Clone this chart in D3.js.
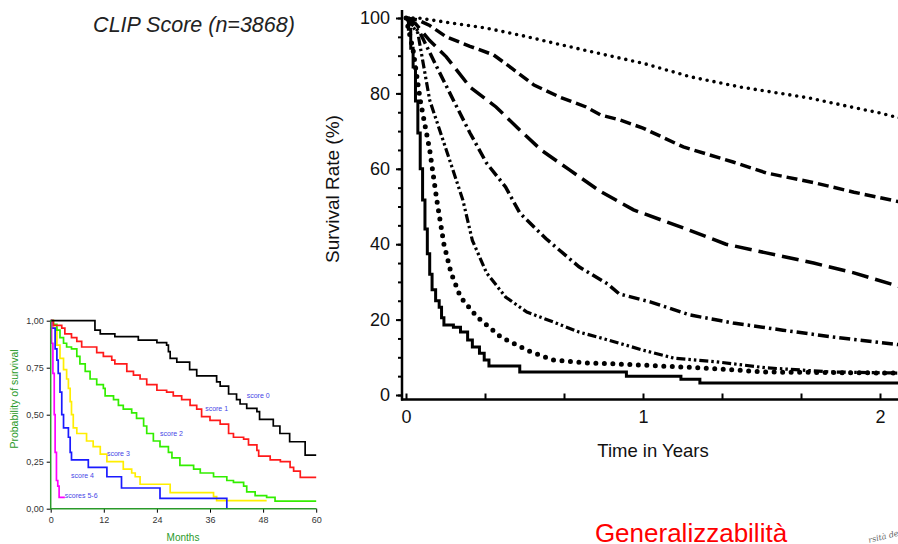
<!DOCTYPE html>
<html>
<head>
<meta charset="utf-8">
<script src="https://cdn.jsdelivr.net/npm/d3@7"></script>
<style>
  body { margin: 0; background: #fff; }
  svg { display: block; font-family: Arial, 'Liberation Sans', sans-serif; }
</style>
</head>
<body>
<svg width="898" height="544"></svg>
<script>
// right chart: survival (%) vs time in years, CLIP score 0..6
let clip0 = [[0,100],[0.05,100],[0.2,98.6],[0.34,97.3],[0.5,95.2],[0.62,93.4],[0.8,90.8],[0.9,89.4],[1.0,88],[1.2,84.4],[1.41,81.7],[1.7,78.8],[1.87,76.5],[2.0,74.8],[2.1,73.2]]
let clip1 = [[0,100],[0.05,99.5],[0.1,98],[0.17,95],[0.27,92.5],[0.37,90.2],[0.45,86.5],[0.54,82.2],[0.65,79],[0.76,76.4],[0.82,74.3],[0.9,73],[1.0,70.8],[1.17,65.8],[1.38,61.8],[1.52,58.9],[1.73,56.2],[1.89,53.8],[2.1,51]]
let clip2 = [[0,100],[0.04,98.5],[0.1,94],[0.17,89.7],[0.27,81.7],[0.38,76.4],[0.48,70.3],[0.57,65],[0.69,59.7],[0.82,54],[0.96,49.1],[1.17,44.3],[1.35,40],[1.52,37.7],[1.72,35],[1.89,32.4],[2.1,28.4]]
let clip3 = [[0,100],[0.06,96],[0.13,87],[0.2,78.2],[0.27,69.5],[0.34,61.5],[0.42,55.2],[0.48,48.3],[0.59,41.5],[0.73,34],[0.85,29.5],[0.9,26.8],[1.03,24.7],[1.2,21.2],[1.38,19.1],[1.59,17.2],[1.8,15.4],[2.1,13.2]]
let clip4 = [[0,100],[0.05,96],[0.1,78.2],[0.17,65],[0.24,51.7],[0.28,41],[0.34,32.4],[0.42,26],[0.51,22],[0.62,19.4],[0.73,16.7],[0.83,15],[1.0,11.9],[1.13,9.8],[1.31,8.8],[1.52,7.2],[1.8,6.1],[2.1,5.8]]
let clip5 = [[0,100],[0.03,91.5],[0.06,78.2],[0.1,65],[0.13,51.7],[0.16,40],[0.19,32.4],[0.23,26],[0.3,20.7],[0.4,15.4],[0.51,11.9],[0.62,9.3],[0.76,8.5],[0.9,8.2],[1.24,7.2],[1.52,6.1],[2.1,5.8]]
let clip6 = [[0,100],[0.01,97],[0.02,92],[0.03,87],[0.04,78],[0.05,69.5],[0.06,60],[0.07,51.7],[0.08,44],[0.09,37.5],[0.1,32],[0.11,27.9],[0.125,25],[0.14,23.3],[0.15,20.5],[0.16,18.6],[0.2,18],[0.23,16.7],[0.26,14.6],[0.28,12.7],[0.31,11.1],[0.33,9.3],[0.35,7.7],[0.48,6.1],[0.93,5],[1.16,4.2],[1.24,3.2],[2.1,3.2]]
let yearTicks = [0, 1, 2]
let rateTicks = [0, 20, 40, 60, 80, 100]

// left chart: probability of survival vs months
let scoreNames = ['score 0', 'score 1', 'score 2', 'score 3', 'score 4', 'scores 5-6']
let score0 = [[0,1],[10,0.95],[11.2,0.93],[14.5,0.915],[19.8,0.897],[24,0.883],[26.2,0.87],[26.6,0.835],[27,0.80],[28.5,0.78],[31.4,0.74],[33,0.706],[37.5,0.675],[38.3,0.652],[40.2,0.61],[42,0.58],[42.8,0.557],[44.3,0.534],[46.6,0.516],[47.2,0.475],[50.3,0.44],[51.8,0.40],[54,0.356],[57.5,0.285],[60,0.285]]
let score1 = [[0,1],[0.6,0.975],[2.5,0.96],[3.2,0.93],[4.7,0.91],[5.9,0.89],[7,0.86],[10.4,0.83],[11.9,0.81],[13.8,0.79],[14.5,0.77],[17.2,0.73],[18.7,0.71],[20.2,0.69],[21.7,0.66],[24,0.63],[26.2,0.62],[27.7,0.60],[29.6,0.58],[31.5,0.55],[33,0.53],[34.1,0.49],[36,0.47],[38.3,0.45],[40.2,0.40],[41.3,0.38],[43.6,0.37],[44.7,0.34],[46.6,0.31],[47,0.28],[49.6,0.26],[51.9,0.25],[54.1,0.22],[54.9,0.20],[56.4,0.167],[60,0.167]]
let score2 = [[0,1],[0.6,0.98],[1.4,0.95],[2.1,0.91],[2.9,0.88],[3.6,0.86],[4.7,0.85],[5.9,0.81],[6.6,0.77],[7.8,0.73],[8.9,0.69],[10.4,0.66],[11.9,0.64],[12.3,0.60],[14.2,0.58],[15.3,0.55],[16.4,0.53],[18.3,0.51],[19.4,0.48],[21,0.44],[21.7,0.40],[23.2,0.36],[24.7,0.33],[26.6,0.30],[27.4,0.27],[29.2,0.23],[32.3,0.21],[33.8,0.19],[36.8,0.17],[39.8,0.15],[41.3,0.14],[43.6,0.12],[44.3,0.09],[46.2,0.07],[48.8,0.06],[50.7,0.04],[60,0.04]]
let score3 = [[0,1],[0.6,0.96],[1.4,0.87],[2.1,0.80],[2.9,0.74],[3.6,0.69],[4,0.64],[4.4,0.57],[4.7,0.50],[5.1,0.43],[5.9,0.40],[8.1,0.36],[9.6,0.33],[11.2,0.29],[12.7,0.25],[16.4,0.21],[18.3,0.19],[19.1,0.17],[20.2,0.13],[27,0.085],[36.8,0.064],[37.5,0.043],[48.8,0.043]]
let score4 = [[0,1],[0.2,0.96],[1,0.85],[1.4,0.79],[1.7,0.72],[2.1,0.62],[2.5,0.50],[2.9,0.43],[4,0.38],[4.4,0.30],[4.7,0.26],[8.5,0.22],[12.7,0.17],[16,0.11],[24.7,0.055],[39.8,0]]
let score56 = [[0,1],[0.2,0.88],[0.5,0.72],[0.8,0.5],[1.0,0.3],[1.3,0.15],[1.6,0.12],[1.9,0.06],[3.2,0.06]]
let labelSpots = [[44.3,0.60],[34.9,0.533],[24.7,0.40],[12.7,0.291],[4.6,0.176],[3.2,0.069]]
let monthTicks = [0, 12, 24, 36, 48, 60]
let probTicks = [0, 0.25, 0.5, 0.75, 1]

let svg = d3.select('svg')

/* 
  Right chart
*/
let xScale = d3.scaleLinear().domain([0, 2]).range([406, 880])
let yScale = d3.scaleLinear().domain([0, 100]).range([395, 18])

let right = svg.append('g')

right.append('g')
  .attr('transform', 'translate(402,0)')
  .call(d3.axisLeft(yScale).tickValues(d3.range(0, 101, 5)).tickSize(4).tickFormat(''))
  .call(g => g.select('.domain').remove())
  .call(g => g.selectAll('line').attr('stroke-width', 2))

right.append('g')
  .attr('transform', 'translate(402,0)')
  .call(d3.axisLeft(yScale).tickValues(rateTicks).tickSize(6).tickPadding(6))
  .call(g => g.select('.domain').remove())
  .call(g => g.selectAll('line').attr('stroke-width', 2))
  .call(g => g.selectAll('text').attr('font-size', 18).attr('fill', '#111').attr('font-family', 'Arial, Liberation Sans'))

right.append('g')
  .attr('transform', 'translate(0,399.5)')
  .call(d3.axisBottom(xScale).tickValues(d3.range(0, 2.2, 1 / 3)).tickSize(-6).tickFormat(''))
  .call(g => g.select('.domain').remove())
  .call(g => g.selectAll('line').attr('stroke-width', 2))

right.append('g')
  .attr('transform', 'translate(0,399.5)')
  .call(d3.axisBottom(xScale).tickValues(yearTicks).tickSize(0).tickPadding(11).tickFormat(d3.format('d')))
  .call(g => g.select('.domain').remove())
  .call(g => g.selectAll('text').attr('font-size', 18).attr('fill', '#111').attr('font-family', 'Arial, Liberation Sans'))

right.append('line')
  .attr('x1', 402).attr('x2', 402).attr('y1', 10).attr('y2', 400.5)
  .attr('stroke', '#000').attr('stroke-width', 2.5)
right.append('line')
  .attr('x1', 401).attr('x2', 898).attr('y1', 399.5).attr('y2', 399.5)
  .attr('stroke', '#000').attr('stroke-width', 2.5)

let line = d3.line()
  .x(d => xScale(d[0]))
  .y(d => yScale(d[1]))

let styles = [
  { data: clip0, dash: '0,7', width: 3.6, cap: 'round' },
  { data: clip1, dash: '11,5', width: 3.5, cap: 'butt' },
  { data: clip2, dash: '17,7', width: 3.5, cap: 'butt' },
  { data: clip3, dash: '11,4,2.5,4', width: 3.5, cap: 'butt' },
  { data: clip4, dash: '9,3,2.5,3,2.5,3', width: 3.2, cap: 'butt' },
  { data: clip5, dash: '0,8.5', width: 5, cap: 'round' }
]

styles.forEach(s => {
  right.append('path')
    .attr('d', line(s.data))
    .attr('fill', 'none')
    .attr('stroke', '#000')
    .attr('stroke-width', s.width)
    .attr('stroke-dasharray', s.dash)
    .attr('stroke-linecap', s.cap)
})

right.append('path')
  .attr('d', line.curve(d3.curveStepAfter)(clip6))
  .attr('fill', 'none')
  .attr('stroke', '#000')
  .attr('stroke-width', 3)

right.append('text')
  .attr('transform', 'translate(339,189) rotate(-90)')
  .attr('text-anchor', 'middle')
  .attr('font-size', 19)
  .attr('fill', '#111')
  .text('Survival Rate (%)')

right.append('text')
  .attr('x', 653).attr('y', 457)
  .attr('text-anchor', 'middle')
  .attr('font-size', 18.5)
  .attr('fill', '#111')
  .text('Time in Years')

/* 
  Left chart
*/
let xLeft = d3.scaleLinear().domain([0, 60]).range([50.7, 316.2])
let yLeft = d3.scaleLinear().domain([0, 1]).range([508.7, 320.7])
let green = '#2a9a2a'

let left = svg.append('g')

left.append('g')
  .attr('transform', 'translate(50.7,0)')
  .call(d3.axisLeft(yLeft).tickValues(probTicks).tickSize(4).tickPadding(3)
    .tickFormat(d => d3.format('.2f')(d).replace('.', ',')))
  .call(g => g.select('.domain').remove())
  .call(g => g.selectAll('text').attr('font-size', 9).attr('fill', '#333'))

left.append('g')
  .attr('transform', 'translate(0,508.7)')
  .call(d3.axisBottom(xLeft).tickValues(monthTicks).tickSize(4).tickPadding(4))
  .call(g => g.select('.domain').remove())
  .call(g => g.selectAll('text').attr('font-size', 9).attr('fill', '#333'))

let lineLeft = d3.line()
  .curve(d3.curveStepAfter)
  .x(d => xLeft(d[0]))
  .y(d => yLeft(d[1]))

let curves = [
  { data: score3, color: '#ffee00' },
  { data: score2, color: '#33ee00' },
  { data: score4, color: '#1a1aff' },
  { data: score56, color: '#ff00ff' },
  { data: score1, color: '#ff1a1a' },
  { data: score0, color: '#000000' }
]

curves.forEach(c => {
  left.append('path')
    .attr('d', lineLeft(c.data))
    .attr('fill', 'none')
    .attr('stroke', c.color)
    .attr('stroke-width', 1.7)
})

left.append('line')
  .attr('x1', 50.7).attr('x2', 50.7).attr('y1', 320).attr('y2', 509)
  .attr('stroke', green).attr('stroke-width', 1.5)
left.append('line')
  .attr('x1', 50).attr('x2', 316.5).attr('y1', 508.7).attr('y2', 508.7)
  .attr('stroke', green).attr('stroke-width', 1.5)

left.selectAll('.score')
  .data(scoreNames)
  .enter()
  .append('text')
  .attr('x', (d, i) => xLeft(labelSpots[i][0]))
  .attr('y', (d, i) => yLeft(labelSpots[i][1]))
  .attr('dy', '0.35em')
  .attr('font-size', 7)
  .attr('fill', '#4646e6')
  .text(d => d)

left.append('text')
  .attr('transform', 'translate(18,399) rotate(-90)')
  .attr('text-anchor', 'middle')
  .attr('font-size', 10.5)
  .attr('fill', green)
  .text('Probability of survival')

left.append('text')
  .attr('x', 183).attr('y', 541)
  .attr('text-anchor', 'middle')
  .attr('font-size', 10)
  .attr('fill', green)
  .text('Months')

/* 
  Slide texts
*/
svg.append('text')
  .attr('x', 194).attr('y', 32)
  .attr('text-anchor', 'middle')
  .attr('font-size', 21.5)
  .attr('font-style', 'italic')
  .attr('fill', '#222')
  .text('CLIP Score (n=3868)')

svg.append('text')
  .attr('x', 691).attr('y', 542)
  .attr('text-anchor', 'middle')
  .attr('font-size', 26)
  .attr('fill', '#ff0000')
  .text('Generalizzabilità')

svg.append('text')
  .attr('transform', 'translate(869,543) rotate(-14)')
  .attr('font-size', 8)
  .attr('font-style', 'italic')
  .attr('font-family', 'DejaVu Serif, serif')
  .attr('fill', '#666')
  .text('rsità degli')
</script>
</body>
</html>
